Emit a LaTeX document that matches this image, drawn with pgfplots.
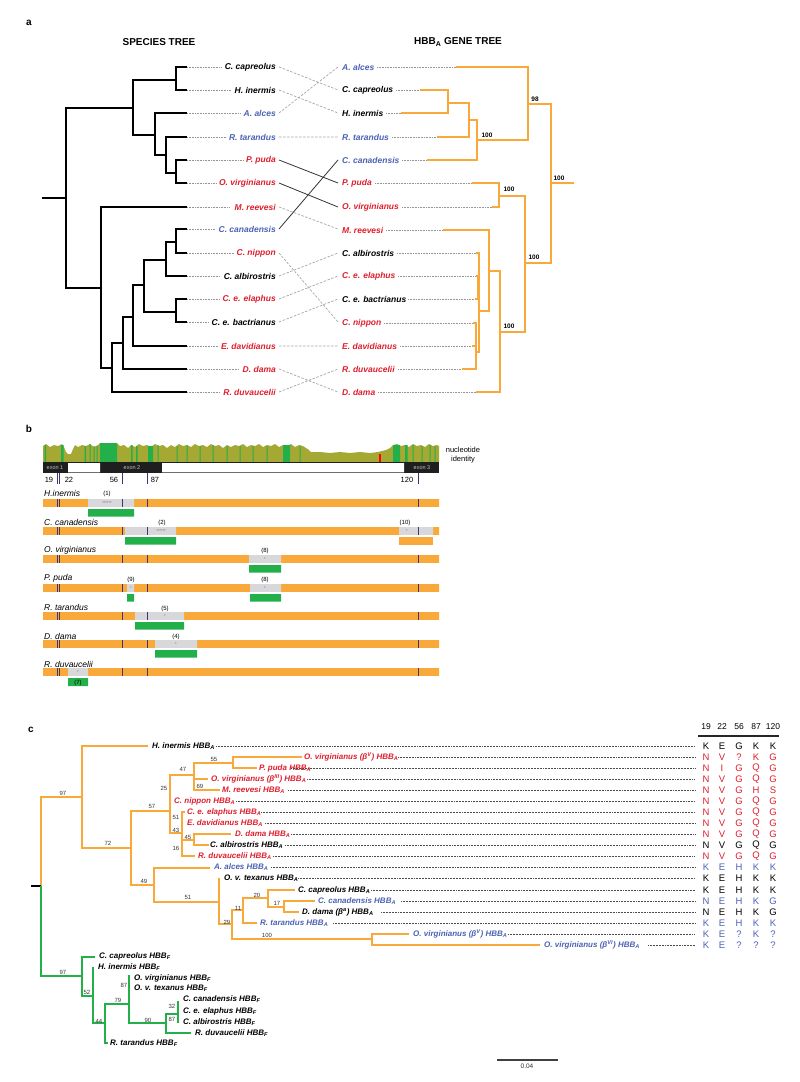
\documentclass[border=0pt]{standalone}
\usepackage{pgfplots}
\pgfplotsset{compat=1.18}
\usepackage{fontspec}
\setmainfont{Liberation Sans}
\definecolor{orng}{RGB}{249,168,58}
\definecolor{grn}{RGB}{35,176,75}
\definecolor{olv}{RGB}{166,168,52}
\definecolor{lred}{RGB}{222,30,45}
\definecolor{lblue}{RGB}{75,98,180}
\definecolor{tickc}{RGB}{60,55,120}
\definecolor{boxg}{RGB}{216,216,218}
\definecolor{dotg}{RGB}{150,150,150}
\tikzset{
 la/.style={inner sep=0pt,font=\fontsize{8.5bp}{10bp}\selectfont\bfseries\itshape},
 lc/.style={inner sep=0pt,font=\fontsize{8bp}{10bp}\selectfont\bfseries\itshape},
 bs/.style={inner sep=0pt,font=\fontsize{6.5bp}{8bp}\selectfont\bfseries},
 bc/.style={inner sep=0pt,font=\fontsize{6bp}{8bp}\selectfont,text=black!80},
 aa/.style={inner sep=0pt,font=\fontsize{9.5bp}{11bp}\selectfont},
 lb/.style={inner sep=0pt,font=\fontsize{8.5bp}{10bp}\selectfont\itshape},
 sm/.style={inner sep=0pt,font=\fontsize{6bp}{7bp}\selectfont},
 st/.style={inner sep=0pt,font=\fontsize{4bp}{5bp}\selectfont,text=black!60},
}
\newcommand{\A}{\textsubscript{A}}
\newcommand{\F}{\textsubscript{F}}
\begin{document}
\begin{tikzpicture}
\begin{axis}[width=800bp,height=1082bp,scale only axis,xmin=0,xmax=800,ymin=0,ymax=1082,
 y dir=reverse,hide axis,clip=false,unbounded coords=jump]
\addplot[draw=none] coordinates {(0,0)(800,1082)};
% ================= PANEL A =================
\node[inner sep=0,font=\fontsize{10bp}{12bp}\selectfont\bfseries] at (axis cs:29,23) {a};
\node[inner sep=0,font=\fontsize{10bp}{12bp}\selectfont\bfseries] at (axis cs:159,42) {SPECIES TREE};
\node[inner sep=0,font=\fontsize{10bp}{12bp}\selectfont\bfseries] at (axis cs:458,42) {HBB\A\ GENE TREE};
% species tree
\addplot[black,line width=1.2bp] coordinates {
(42,198)(66,198) (nan,nan)
(133,108)(66,108)(66,288)(101,288) (nan,nan)
(176,80)(133,80)(133,135)(155,135) (nan,nan)
(187,67)(176,67)(176,90)(187,90) (nan,nan)
(187,113)(155,113)(155,155)(166,155) (nan,nan)
(187,137)(166,137)(166,173)(176,173) (nan,nan)
(187,160)(176,160)(176,183)(187,183) (nan,nan)
(187,207)(101,207)(101,368)(112,368) (nan,nan)
(123,343)(112,343)(112,392)(187,392) (nan,nan)
(133,317)(123,317)(123,369)(187,369) (nan,nan)
(144,285)(133,285)(133,346)(187,346) (nan,nan)
(166,260)(144,260)(144,312)(176,312) (nan,nan)
(176,242)(166,242)(166,276)(187,276) (nan,nan)
(187,229)(176,229)(176,253)(187,253) (nan,nan)
(187,299)(176,299)(176,322)(187,322)
};
% species leader dots
\addplot[dotg,line width=0.6bp,densely dotted] coordinates {
(187,67)(221,67) (nan,nan) (187,90)(231,90) (nan,nan) (187,113)(240,113) (nan,nan)
(187,137)(226,137) (nan,nan) (187,160)(243,160) (nan,nan) (187,183)(216,183) (nan,nan)
(187,207)(230,207) (nan,nan) (187,229)(215,229) (nan,nan) (187,253)(234,253) (nan,nan)
(187,276)(220,276) (nan,nan) (187,299)(220,299) (nan,nan) (187,322)(209,322) (nan,nan)
(187,346)(218,346) (nan,nan) (187,369)(239,369) (nan,nan) (187,392)(220,392)
};
\node[la,anchor=east] at (axis cs:276,67) {C. capreolus};
\node[la,anchor=east] at (axis cs:276,90) {H. inermis};
\node[la,anchor=east,text=lblue] at (axis cs:276,113) {A. alces};
\node[la,anchor=east,text=lblue] at (axis cs:276,137) {R. tarandus};
\node[la,anchor=east,text=lred] at (axis cs:276,160) {P. puda};
\node[la,anchor=east,text=lred] at (axis cs:276,183) {O. virginianus};
\node[la,anchor=east,text=lred] at (axis cs:276,207) {M. reevesi};
\node[la,anchor=east,text=lblue] at (axis cs:276,229) {C. canadensis};
\node[la,anchor=east,text=lred] at (axis cs:276,253) {C. nippon};
\node[la,anchor=east] at (axis cs:276,276) {C. albirostris};
\node[la,anchor=east,text=lred] at (axis cs:276,299) {C. e. elaphus};
\node[la,anchor=east] at (axis cs:276,322) {C. e. bactrianus};
\node[la,anchor=east,text=lred] at (axis cs:276,346) {E. davidianus};
\node[la,anchor=east,text=lred] at (axis cs:276,369) {D. dama};
\node[la,anchor=east,text=lred] at (axis cs:276,392) {R. duvaucelii};
% crossing lines
\addplot[black!35,line width=0.7bp,dashed,dash pattern=on 2.5bp off 1.5bp] coordinates {
(279,67)(338,90) (nan,nan) (279,90)(338,113) (nan,nan) (279,113)(338,67) (nan,nan)
(279,137)(338,137) (nan,nan) (279,207)(338,229) (nan,nan) (279,253)(338,322) (nan,nan)
(279,276)(338,253) (nan,nan) (279,299)(338,276) (nan,nan) (279,322)(338,299) (nan,nan)
(279,346)(338,346) (nan,nan) (279,369)(338,392) (nan,nan) (279,392)(338,369)
};
\addplot[black!80,line width=0.8bp] coordinates {
(279,160)(338,183) (nan,nan) (279,183)(338,207) (nan,nan) (279,229)(338,160)
};
% gene tree labels
\node[la,anchor=west,text=lblue] at (axis cs:342,67) {A. alces};
\node[la,anchor=west] at (axis cs:342,90) {C. capreolus};
\node[la,anchor=west] at (axis cs:342,113) {H. inermis};
\node[la,anchor=west,text=lblue] at (axis cs:342,137) {R. tarandus};
\node[la,anchor=west,text=lblue] at (axis cs:342,160) {C. canadensis};
\node[la,anchor=west,text=lred] at (axis cs:342,183) {P. puda};
\node[la,anchor=west,text=lred] at (axis cs:342,207) {O. virginianus};
\node[la,anchor=west,text=lred] at (axis cs:342,230) {M. reevesi};
\node[la,anchor=west] at (axis cs:342,253) {C. albirostris};
\node[la,anchor=west,text=lred] at (axis cs:342,276) {C. e. elaphus};
\node[la,anchor=west] at (axis cs:342,299) {C. e. bactrianus};
\node[la,anchor=west,text=lred] at (axis cs:342,323) {C. nippon};
\node[la,anchor=west,text=lred] at (axis cs:342,346) {E. davidianus};
\node[la,anchor=west,text=lred] at (axis cs:342,369) {R. duvaucelii};
\node[la,anchor=west,text=lred] at (axis cs:342,392) {D. dama};
\addplot[dotg,line width=0.6bp,densely dotted] coordinates {
(377,67)(456,67) (nan,nan) (396,90)(420,90) (nan,nan) (386,113)(401,113) (nan,nan)
(392,137)(437,137) (nan,nan) (402,160)(427,160) (nan,nan) (375,183)(472,183) (nan,nan)
(402,207)(492,207) (nan,nan) (386,230)(443,230) (nan,nan) (397,253)(476,253) (nan,nan)
(398,276)(476,276) (nan,nan) (408,299)(475,299) (nan,nan) (384,323)(473,323) (nan,nan)
(400,346)(472,346) (nan,nan) (398,369)(462,369) (nan,nan) (378,392)(476,392)
};
% gene tree
\addplot[orng,line width=1.3bp] coordinates {
(456,67)(528,67)(528,140)(477,140) (nan,nan)
(420,90)(448,90)(448,113)(401,113) (nan,nan)
(448,103)(469,103)(469,137)(437,137) (nan,nan)
(469,120)(477,120)(477,160)(427,160) (nan,nan)
(528,104)(551,104)(551,263)(525,263) (nan,nan)
(551,183)(574,183) (nan,nan)
(472,183)(499,183)(499,207)(492,207) (nan,nan)
(499,196)(525,196)(525,332)(500,332) (nan,nan)
(443,230)(489,230)(489,311)(479,311) (nan,nan)
(489,271)(500,271)(500,392)(476,392) (nan,nan)
(476,253)(479,253)(479,352)(476,352) (nan,nan)
(476,276)(478,276)(478,299)(475,299) (nan,nan)
(473,323)(476,323)(476,369)(462,369) (nan,nan)
(472,346)(476,346)
};
\node[bs] at (axis cs:535,99) {98};
\node[bs] at (axis cs:487,135) {100};
\node[bs] at (axis cs:559,178) {100};
\node[bs] at (axis cs:509,189) {100};
\node[bs] at (axis cs:534,257) {100};
\node[bs] at (axis cs:509,326) {100};
% ================= PANEL B =================
\node[inner sep=0,font=\fontsize{10bp}{12bp}\selectfont\bfseries] at (axis cs:29,429) {b};
% identity profile
\addplot[fill=olv,draw=none] coordinates {
(43,462)(43,446)(46,444)(50,447)(54,445)(58,446)(62,444)(64,447)(66,452)(68,454)(71,454)(73,449)(75,445)(78,447)(82,445)(86,446)(90,444)(94,447)(98,445)(100,443)(117,443)(120,446)(124,445)(128,448)(131,445)(135,447)(139,444)(143,446)(147,445)(151,447)(155,444)(159,446)(163,445)(167,448)(171,445)(175,447)(179,444)(183,446)(187,445)(191,447)(195,444)(199,446)(203,445)(207,447)(211,444)(215,446)(219,445)(223,448)(227,445)(231,447)(235,445)(239,446)(243,444)(247,447)(251,445)(255,446)(259,444)(263,447)(267,445)(271,446)(275,444)(279,447)(283,445)(287,446)(291,444)(295,447)(299,445)(303,446)(306,448)(309,450)(311,452)(320,452)(330,453)(340,452)(350,453)(360,452)(370,453)(378,452)(382,451)(386,450)(390,448)(393,445)(397,444)(401,446)(405,445)(409,447)(413,444)(417,446)(421,445)(425,447)(429,444)(433,446)(437,445)(439,446)(439,462)
};
\addplot[fill=grn,draw=none] coordinates {
(44.5,462)(44.5,445)(46,445)(46,462) (nan,nan)
(61,462)(61,445)(63.5,445)(63.5,462) (nan,nan)
(84.5,462)(84.5,446)(86,446)(86,462) (nan,nan)
(89.5,462)(89.5,444)(90.5,444)(90.5,462) (nan,nan)
(93.5,462)(93.5,446)(94.5,446)(94.5,462) (nan,nan)
(96.5,462)(96.5,446)(97.5,446)(97.5,462) (nan,nan)
(100,462)(100,443)(117,443)(117,462) (nan,nan)
(131,462)(131,445)(132.5,445)(132.5,462) (nan,nan)
(136,462)(136,446)(137.5,446)(137.5,462) (nan,nan)
(148,462)(148,446)(153,446)(153,462) (nan,nan)
(157.5,462)(157.5,445)(158.5,445)(158.5,462) (nan,nan)
(176.5,462)(176.5,446)(177.5,446)(177.5,462) (nan,nan)
(186.5,462)(186.5,445)(187.5,445)(187.5,462) (nan,nan)
(199.5,462)(199.5,446)(200.5,446)(200.5,462) (nan,nan)
(212.5,462)(212.5,445)(213.5,445)(213.5,462) (nan,nan)
(226.5,462)(226.5,446)(227.5,446)(227.5,462) (nan,nan)
(239.5,462)(239.5,446)(240.5,446)(240.5,462) (nan,nan)
(252.5,462)(252.5,446)(253.5,446)(253.5,462) (nan,nan)
(266.5,462)(266.5,446)(267.5,446)(267.5,462) (nan,nan)
(283,462)(283,445)(290,445)(290,462) (nan,nan)
(299.5,462)(299.5,446)(300.5,446)(300.5,462) (nan,nan)
(393,462)(393,445)(400,445)(400,462) (nan,nan)
(405,462)(405,445)(407.5,445)(407.5,462) (nan,nan)
(412.5,462)(412.5,445)(413.5,445)(413.5,462) (nan,nan)
(421.5,462)(421.5,446)(422.5,446)(422.5,462) (nan,nan)
(429.5,462)(429.5,445)(430.5,445)(430.5,462) (nan,nan)
(434.5,462)(434.5,446)(435.5,446)(435.5,462)
};
\addplot[fill=red,draw=none] coordinates {(378.5,462)(378.5,454)(381,454)(381,462)};
% exon bar
\addplot[fill=black!88,draw=none] coordinates {(43,462)(439,462)(439,473)(43,473)};
\addplot[fill=white,draw=none] coordinates {(68,463)(100,463)(100,472.3)(68,472.3) (nan,nan) (162,463)(404,463)(404,472.3)(162,472.3)};
\node[inner sep=0,font=\fontsize{5.5bp}{6bp}\selectfont,text=black!25] at (axis cs:55,467.8) {exon 1};
\node[inner sep=0,font=\fontsize{5.5bp}{6bp}\selectfont,text=black!25] at (axis cs:132,467.8) {exon 2};
\node[inner sep=0,font=\fontsize{5.5bp}{6bp}\selectfont,text=black!25] at (axis cs:422,467.8) {exon 3};
\node[inner sep=0,font=\fontsize{7.5bp}{9bp}\selectfont,align=center] at (axis cs:463,455) {nucleotide\\identity};
% ruler
\addplot[tickc,line width=0.9bp] coordinates {
(57,473)(57,484) (nan,nan) (59.5,473)(59.5,484) (nan,nan) (122,473)(122,484) (nan,nan) (147,473)(147,484) (nan,nan) (418,473)(418,484)};
\node[inner sep=0,font=\fontsize{7.5bp}{9bp}\selectfont] at (axis cs:49,480) {19};
\node[inner sep=0,font=\fontsize{7.5bp}{9bp}\selectfont] at (axis cs:69,480) {22};
\node[inner sep=0,font=\fontsize{7.5bp}{9bp}\selectfont] at (axis cs:114,480) {56};
\node[inner sep=0,font=\fontsize{7.5bp}{9bp}\selectfont] at (axis cs:155,480) {87};
\node[inner sep=0,font=\fontsize{7.5bp}{9bp}\selectfont] at (axis cs:407,480) {120};
% orange tracks
\addplot[fill=orng,draw=none] coordinates {
(43,499.2)(439,499.2)(439,506.8)(43,506.8) (nan,nan)
(43,527.2)(439,527.2)(439,534.8)(43,534.8) (nan,nan)
(43,555.2)(439,555.2)(439,562.8)(43,562.8) (nan,nan)
(43,584.2)(439,584.2)(439,591.8)(43,591.8) (nan,nan)
(43,612.2)(439,612.2)(439,619.8)(43,619.8) (nan,nan)
(43,640.2)(439,640.2)(439,647.8)(43,647.8) (nan,nan)
(43,668.2)(439,668.2)(439,675.8)(43,675.8)
};
% grey boxes
\addplot[fill=boxg,draw=none] coordinates {
(88,499.2)(134,499.2)(134,506.8)(88,506.8) (nan,nan)
(125,527.2)(176,527.2)(176,534.8)(125,534.8) (nan,nan)
(399,527.2)(433,527.2)(433,534.8)(399,534.8) (nan,nan)
(249,555.2)(281,555.2)(281,562.8)(249,562.8) (nan,nan)
(127,584.2)(134,584.2)(134,591.8)(127,591.8) (nan,nan)
(250,584.2)(281,584.2)(281,591.8)(250,591.8) (nan,nan)
(135,612.2)(184,612.2)(184,619.8)(135,619.8) (nan,nan)
(155,640.2)(197,640.2)(197,647.8)(155,647.8) (nan,nan)
(68,668.2)(88,668.2)(88,675.8)(68,675.8)
};
% ticks on tracks
\addplot[tickc,line width=0.9bp] coordinates {
(57,499.2)(57,506.8) (nan,nan) (59.5,499.2)(59.5,506.8) (nan,nan) (122,499.2)(122,506.8) (nan,nan) (147,499.2)(147,506.8) (nan,nan) (418,499.2)(418,506.8) (nan,nan)
(57,527.2)(57,534.8) (nan,nan) (59.5,527.2)(59.5,534.8) (nan,nan) (122,527.2)(122,534.8) (nan,nan) (147,527.2)(147,534.8) (nan,nan) (418,527.2)(418,534.8) (nan,nan)
(57,555.2)(57,562.8) (nan,nan) (59.5,555.2)(59.5,562.8) (nan,nan) (122,555.2)(122,562.8) (nan,nan) (147,555.2)(147,562.8) (nan,nan) (418,555.2)(418,562.8) (nan,nan)
(57,584.2)(57,591.8) (nan,nan) (59.5,584.2)(59.5,591.8) (nan,nan) (122,584.2)(122,591.8) (nan,nan) (147,584.2)(147,591.8) (nan,nan) (418,584.2)(418,591.8) (nan,nan)
(57,612.2)(57,619.8) (nan,nan) (59.5,612.2)(59.5,619.8) (nan,nan) (122,612.2)(122,619.8) (nan,nan) (147,612.2)(147,619.8) (nan,nan) (418,612.2)(418,619.8) (nan,nan)
(57,640.2)(57,647.8) (nan,nan) (59.5,640.2)(59.5,647.8) (nan,nan) (122,640.2)(122,647.8) (nan,nan) (147,640.2)(147,647.8) (nan,nan) (418,640.2)(418,647.8) (nan,nan)
(57,668.2)(57,675.8) (nan,nan) (59.5,668.2)(59.5,675.8) (nan,nan) (122,668.2)(122,675.8) (nan,nan) (147,668.2)(147,675.8) (nan,nan) (418,668.2)(418,675.8)
};
% green / orange bars below
\addplot[fill=grn,draw=none] coordinates {
(88,509)(134,509)(134,516.5)(88,516.5) (nan,nan)
(125,537)(176,537)(176,544.5)(125,544.5) (nan,nan)
(249,565)(281,565)(281,572.5)(249,572.5) (nan,nan)
(127,594)(134,594)(134,601.5)(127,601.5) (nan,nan)
(250,594)(281,594)(281,601.5)(250,601.5) (nan,nan)
(135,622)(184,622)(184,629.5)(135,629.5) (nan,nan)
(155,650)(197,650)(197,657.5)(155,657.5) (nan,nan)
(68,678)(88,678)(88,686)(68,686)
};
\addplot[fill=orng,draw=none] coordinates {(399,537)(433,537)(433,544.5)(399,544.5)};
% track labels
\node[lb,anchor=west] at (axis cs:44,493) {H.inermis};
\node[lb,anchor=west] at (axis cs:44,522) {C. canadensis};
\node[lb,anchor=west] at (axis cs:44,550) {O. virginianus};
\node[lb,anchor=west] at (axis cs:44,578.5) {P. puda};
\node[lb,anchor=west] at (axis cs:44,607.5) {R. tarandus};
\node[lb,anchor=west] at (axis cs:44,636) {D. dama};
\node[lb,anchor=west] at (axis cs:44,664) {R. duvaucelii};
\node[sm] at (axis cs:107,494) {(1)};
\node[sm] at (axis cs:162,523) {(2)};
\node[sm] at (axis cs:405,523) {(10)};
\node[sm] at (axis cs:265,551) {(8)};
\node[sm] at (axis cs:131,580) {(9)};
\node[sm] at (axis cs:265,580) {(8)};
\node[sm] at (axis cs:165,608.5) {(5)};
\node[sm] at (axis cs:176,637) {(4)};
\node[sm] at (axis cs:78,682.5) {(7)};
\node[st] at (axis cs:107,503) {******};
\node[st] at (axis cs:161,531) {******};
\node[st] at (axis cs:407,531) {*};
\node[st] at (axis cs:265,559) {*};
\node[st] at (axis cs:131,588) {*};
\node[st] at (axis cs:265,588) {*};
\node[st] at (axis cs:165,616) {*};
\node[st] at (axis cs:176,644) {*};
\node[st] at (axis cs:78,672) {*};
% ================= PANEL C =================
\node[inner sep=0,font=\fontsize{10bp}{12bp}\selectfont\bfseries] at (axis cs:31,730) {c};
\addplot[orng,line width=1.3bp] coordinates {
(41,886)(41,797)(82,797) (nan,nan)
(148,746)(82,746)(82,848)(131,848) (nan,nan)
(170,811)(131,811)(131,885)(154,885) (nan,nan)
(194,775)(170,775)(170,833)(182,833) (nan,nan)
(233,763)(194,763)(194,790)(220,790) (nan,nan)
(302,757)(233,757)(233,768)(257,768) (nan,nan)
(194,779)(208,779) (nan,nan)
(185,812)(182,812)(182,856)(195,856) (nan,nan)
(182,840)(194,840) (nan,nan)
(231,834)(194,834)(194,845)(209,845) (nan,nan)
(210,868)(154,868)(154,902)(219,902) (nan,nan)
(219,878)(219,924)(232,924) (nan,nan)
(243,910)(232,910)(232,939)(372,939) (nan,nan)
(409,934)(372,934)(372,945)(540,945) (nan,nan)
(268,898)(243,898)(243,923)(257,923) (nan,nan)
(295,890)(268,890)(268,907)(284,907) (nan,nan)
(315,901)(284,901)(284,912)(299,912)
};
\addplot[black,line width=1.6bp] coordinates {(31,886)(41,886)};
\addplot[grn,line width=1.3bp] coordinates {
(41,886)(41,976)(82,976) (nan,nan)
(95,957)(82,957)(82,996)(93,996) (nan,nan)
(93,967)(93,1023)(105,1023) (nan,nan)
(129,1004)(105,1004)(105,1043)(108,1043) (nan,nan)
(129,975)(129,1023)(166,1023) (nan,nan)
(178,1014)(166,1014)(166,1033)(191,1033) (nan,nan)
(178,1001)(178,1023)
};
% bootstrap c
\node[bc] at (axis cs:63,793) {97};
\node[bc] at (axis cs:108,843) {72};
\node[bc] at (axis cs:152,806) {57};
\node[bc] at (axis cs:164,788) {25};
\node[bc] at (axis cs:183,769) {47};
\node[bc] at (axis cs:214,759) {55};
\node[bc] at (axis cs:200,786) {69};
\node[bc] at (axis cs:176,817) {51};
\node[bc] at (axis cs:176,830) {43};
\node[bc] at (axis cs:188,837) {45};
\node[bc] at (axis cs:176,848) {16};
\node[bc] at (axis cs:144,881) {49};
\node[bc] at (axis cs:188,897) {51};
\node[bc] at (axis cs:238,908) {11};
\node[bc] at (axis cs:257,895) {20};
\node[bc] at (axis cs:277,903) {17};
\node[bc] at (axis cs:227,922) {29};
\node[bc] at (axis cs:267,935) {100};
\node[bc] at (axis cs:63,972) {97};
\node[bc] at (axis cs:87,992) {52};
\node[bc] at (axis cs:99,1021) {44};
\node[bc] at (axis cs:118,1000) {79};
\node[bc] at (axis cs:124,985) {87};
\node[bc] at (axis cs:148,1020) {90};
\node[bc] at (axis cs:172,1006) {32};
\node[bc] at (axis cs:172,1019) {87};
% labels c (HBB_A)
\node[lc,anchor=west] at (axis cs:152,746) {H. inermis HBB\A};
\node[lc,anchor=west,text=lred] at (axis cs:304,757) {O. virginianus (β\textsuperscript{V}) HBB\A};
\node[lc,anchor=west,text=lred] at (axis cs:259,768) {P. puda HBB\A};
\node[lc,anchor=west,text=lred] at (axis cs:211,779) {O. virginianus (β\textsuperscript{III}) HBB\A};
\node[lc,anchor=west,text=lred] at (axis cs:222,790) {M. reevesi HBB\A};
\node[lc,anchor=west,text=lred] at (axis cs:174,801) {C. nippon HBB\A};
\node[lc,anchor=west,text=lred] at (axis cs:187,812) {C. e. elaphus HBB\A};
\node[lc,anchor=west,text=lred] at (axis cs:187,823) {E. davidianus HBB\A};
\node[lc,anchor=west,text=lred] at (axis cs:235,834) {D. dama HBB\A};
\node[lc,anchor=west] at (axis cs:210,845) {C. albirostris HBB\A};
\node[lc,anchor=west,text=lred] at (axis cs:198,856) {R. duvaucelii HBB\A};
\node[lc,anchor=west,text=lblue] at (axis cs:214,867) {A. alces HBB\A};
\node[lc,anchor=west] at (axis cs:224,878) {O. v. texanus HBB\A};
\node[lc,anchor=west] at (axis cs:298,890) {C. capreolus HBB\A};
\node[lc,anchor=west,text=lblue] at (axis cs:318,901) {C. canadensis HBB\A};
\node[lc,anchor=west] at (axis cs:302,912) {D. dama (β\textsuperscript{a}) HBB\A};
\node[lc,anchor=west,text=lblue] at (axis cs:260,923) {R. tarandus HBB\A};
\node[lc,anchor=west,text=lblue] at (axis cs:413,934) {O. virginianus (β\textsuperscript{V}) HBB\A};
\node[lc,anchor=west,text=lblue] at (axis cs:544,945) {O. virginianus (β\textsuperscript{VI}) HBB\A};
% labels c (HBB_F)
\node[lc,anchor=west] at (axis cs:99,956) {C. capreolus HBB\F};
\node[lc,anchor=west] at (axis cs:98,967) {H. inermis HBB\F};
\node[lc,anchor=west] at (axis cs:134,978) {O. virginianus HBB\F};
\node[lc,anchor=west] at (axis cs:134,988) {O. v. texanus HBB\F};
\node[lc,anchor=west] at (axis cs:183,999) {C. canadensis HBB\F};
\node[lc,anchor=west] at (axis cs:183,1011) {C. e. elaphus HBB\F};
\node[lc,anchor=west] at (axis cs:183,1022) {C. albirostris HBB\F};
\node[lc,anchor=west] at (axis cs:195,1033) {R. duvaucelii HBB\F};
\node[lc,anchor=west] at (axis cs:110,1043) {R. tarandus HBB\F};
% dotted leaders c
\addplot[black!70,line width=0.55bp,densely dotted] coordinates {
(216,746)(695,746) (nan,nan) (398,757)(695,757) (nan,nan) (291,768)(695,768) (nan,nan)
(307,779)(695,779) (nan,nan) (288,790)(695,790) (nan,nan) (236,801)(695,801) (nan,nan)
(261,812)(695,812) (nan,nan) (265,823)(695,823) (nan,nan) (291,834)(695,834) (nan,nan)
(285,845)(695,845) (nan,nan) (273,856)(695,856) (nan,nan) (271,867)(695,867) (nan,nan)
(298,878)(695,878) (nan,nan) (371,890)(695,890) (nan,nan) (401,901)(695,901) (nan,nan)
(381,912)(695,912) (nan,nan) (333,923)(695,923) (nan,nan) (508,934)(695,934) (nan,nan)
(648,945)(695,945)
};
% residue table
\node[inner sep=0,font=\fontsize{8.5bp}{10bp}\selectfont] at (axis cs:706,727) {19};
\node[inner sep=0,font=\fontsize{8.5bp}{10bp}\selectfont] at (axis cs:722,727) {22};
\node[inner sep=0,font=\fontsize{8.5bp}{10bp}\selectfont] at (axis cs:739,727) {56};
\node[inner sep=0,font=\fontsize{8.5bp}{10bp}\selectfont] at (axis cs:756,727) {87};
\node[inner sep=0,font=\fontsize{8.5bp}{10bp}\selectfont] at (axis cs:773,727) {120};
\addplot[black!85,line width=1.2bp] coordinates {(698,736)(779,736)};
\foreach \r/\yy/\cc/\a/\b/\c/\d/\e in {
 0/746/black/K/E/G/K/K, 1/757/lred/N/V/?/K/G, 2/768/lred/N/I/G/Q/G, 3/779/lred/N/V/G/Q/G,
 4/790/lred/N/V/G/H/S, 5/801/lred/N/V/G/Q/G, 6/812/lred/N/V/G/Q/G, 7/823/lred/N/V/G/Q/G,
 8/834/lred/N/V/G/Q/G, 9/845/black/N/V/G/Q/G, 10/856/lred/N/V/G/Q/G, 11/867/lblue/K/E/H/K/K,
 12/878/black/K/E/H/K/K, 13/890/black/K/E/H/K/K, 14/901/lblue/N/E/H/K/G, 15/912/black/N/E/H/K/G,
 16/923/lblue/K/E/H/K/K, 17/934/lblue/K/E/?/K/?, 18/945/lblue/K/E/?/?/?}{
 \edef\tmp{\noexpand\node[aa,text=\cc] at (axis cs:706,\yy) {\a};
  \noexpand\node[aa,text=\cc] at (axis cs:722,\yy) {\b};
  \noexpand\node[aa,text=\cc] at (axis cs:739,\yy) {\c};
  \noexpand\node[aa,text=\cc] at (axis cs:756,\yy) {\d};
  \noexpand\node[aa,text=\cc] at (axis cs:773,\yy) {\e};}
 \tmp
}
% scale bar
\addplot[black!75,line width=1.5bp] coordinates {(497,1060)(558,1060)};
\node[inner sep=0,font=\fontsize{6.5bp}{8bp}\selectfont,text=black!80] at (axis cs:527,1066.5) {0.04};
\end{axis}
\end{tikzpicture}
\end{document}
